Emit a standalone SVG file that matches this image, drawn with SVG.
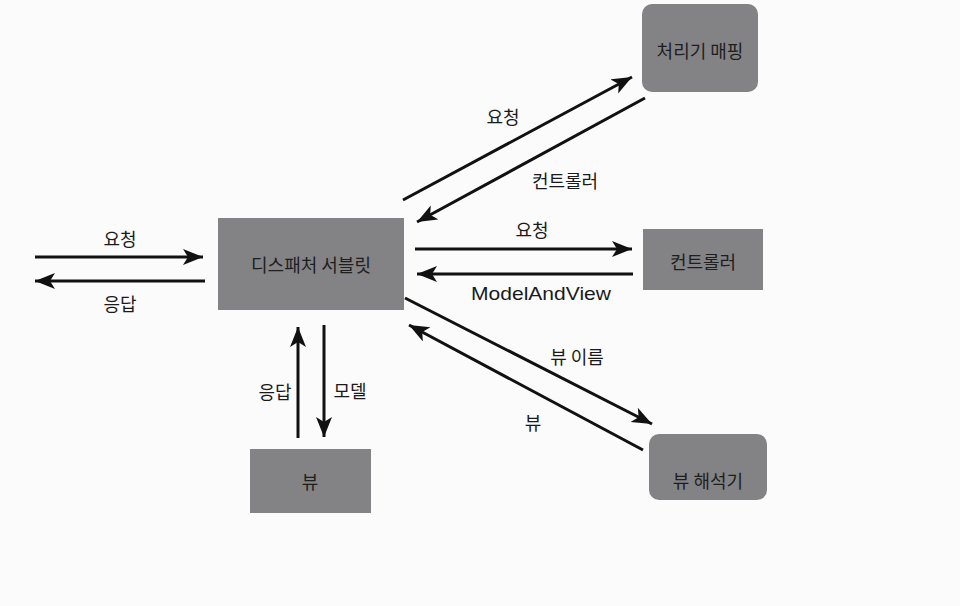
<svg xmlns="http://www.w3.org/2000/svg" width="960" height="606" viewBox="0 0 960 606">
<style>
.box{fill:#838386;}
.nl{font-family:"Noto Sans CJK KR","Noto Sans",sans-serif;font-size:18px;fill:#1e1e1e;text-anchor:middle;dominant-baseline:central;}
.el{font-family:"Noto Sans CJK KR","Noto Sans",sans-serif;font-size:18px;fill:#1a1a1a;text-anchor:middle;dominant-baseline:central;}
.c{stroke:#111;stroke-width:3;fill:none;marker-end:url(#ah);}
</style>
<defs>
<marker id="ah" markerUnits="userSpaceOnUse" markerWidth="22" markerHeight="18" refX="20" refY="8" orient="auto">
<path d="M0,0 L20,8 L0,16 L5,8 z" fill="#111"/>
</marker>
</defs>
<rect width="960" height="606" fill="#fbfbfb"/>
<g id="dispatcher"><rect class="box" x="218" y="218" width="186" height="92"/><text class="nl" x="311" y="264">디스패처 서블릿</text></g>
<g id="handler-mapping"><rect class="box" x="642" y="4" width="116" height="88" rx="10"/><text class="nl" x="700" y="50">처리기 매핑</text></g>
<g id="controller"><rect class="box" x="643" y="229" width="120" height="61"/><text class="nl" x="703" y="261">컨트롤러</text></g>
<g id="view"><rect class="box" x="250" y="449" width="121" height="64"/><text class="nl" x="310" y="481">뷰</text></g>
<g id="view-resolver"><rect class="box" x="649" y="434" width="118" height="66" rx="10"/><text class="nl" x="708" y="480">뷰 해석기</text></g>
<g id="connectors">
<line class="c" x1="35" y1="257" x2="203" y2="257"/>
<line class="c" x1="205" y1="281" x2="35" y2="281"/>
<line class="c" x1="403" y1="200" x2="632" y2="77"/>
<line class="c" x1="645" y1="98" x2="417" y2="222"/>
<line class="c" x1="415" y1="249" x2="632" y2="249"/>
<line class="c" x1="633" y1="274" x2="417" y2="274"/>
<line class="c" x1="405" y1="298" x2="652" y2="424"/>
<line class="c" x1="643" y1="450" x2="409" y2="325"/>
<line class="c" x1="298" y1="438" x2="298" y2="327"/>
<line class="c" x1="324" y1="325" x2="324" y2="437"/>
<text class="el" x="120" y="238">요청</text>
<text class="el" x="120" y="303">응답</text>
<text class="el" x="503" y="116">요청</text>
<text class="el" x="565" y="180">컨트롤러</text>
<text class="el" x="532" y="229">요청</text>
<text class="el" x="541" y="293" style="font-family:'Liberation Sans','Noto Sans',sans-serif;font-size:19px" textLength="140" lengthAdjust="spacingAndGlyphs">ModelAndView</text>
<text class="el" x="577" y="356">뷰 이름</text>
<text class="el" x="533" y="422">뷰</text>
<text class="el" x="275" y="391">응답</text>
<text class="el" x="350" y="390">모델</text>
</g>
</svg>
